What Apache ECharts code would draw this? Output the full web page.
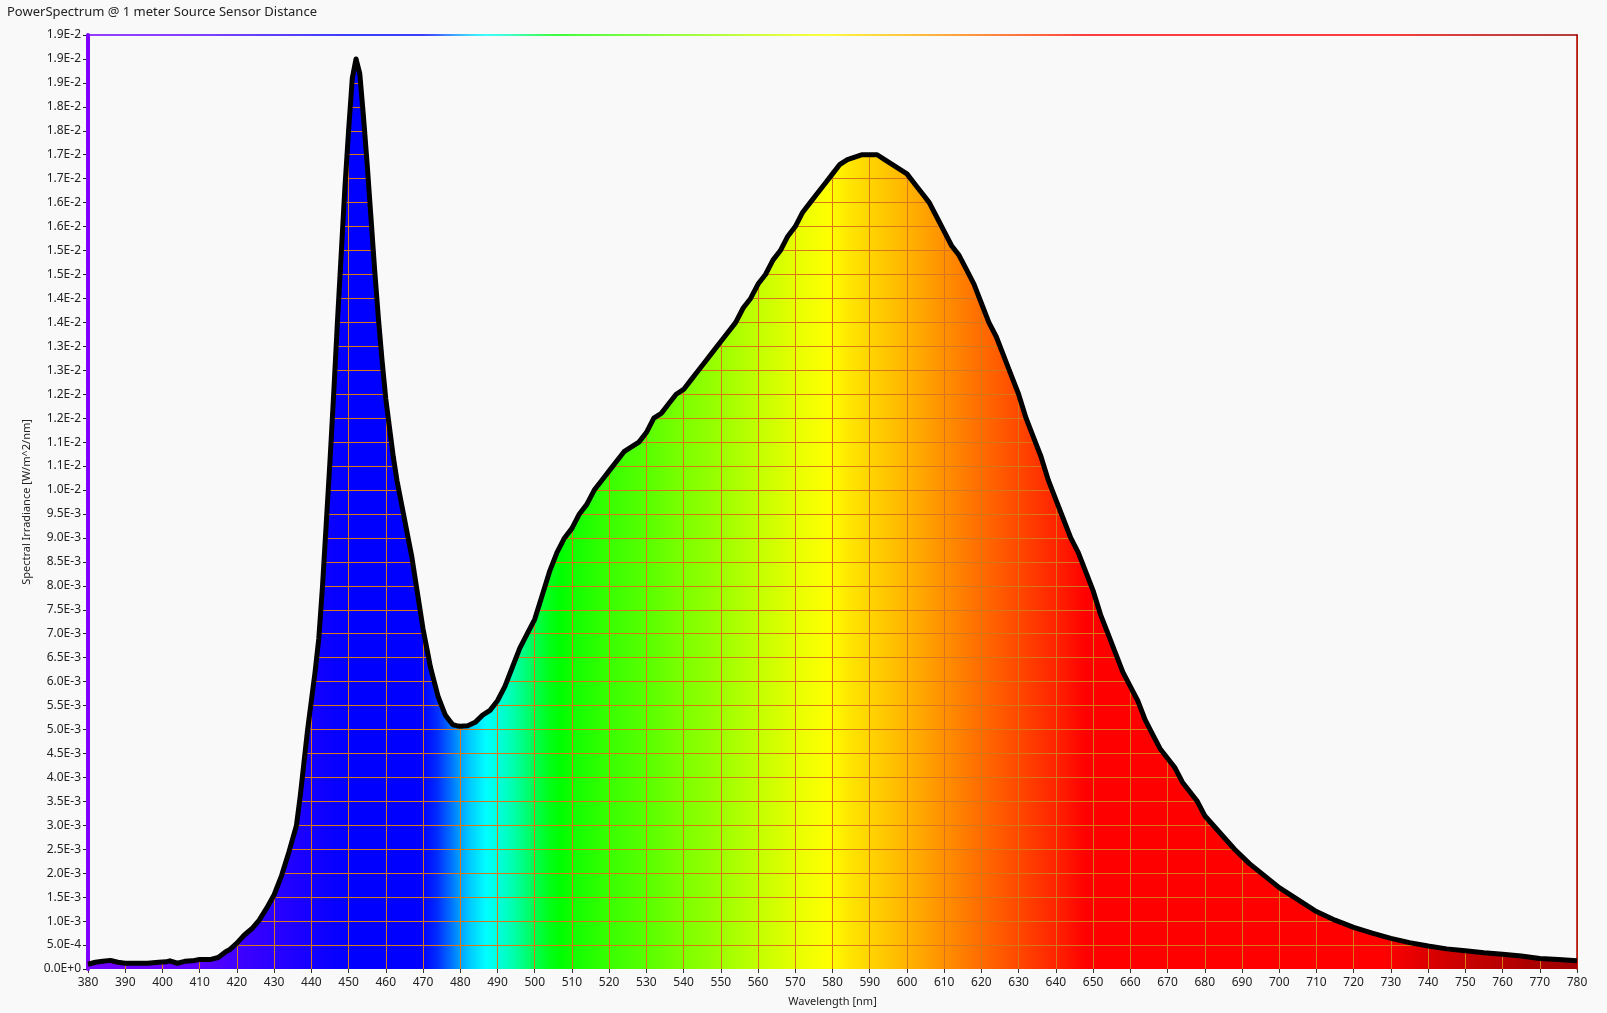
<!DOCTYPE html>
<html>
<head>
<meta charset="utf-8">
<script src="https://cdn.jsdelivr.net/npm/echarts@6/dist/echarts.min.js"></script>
<style>
html,body{margin:0;padding:0;background:#f9f9f9;}
#chart{width:1607px;height:1013px;}
</style>
</head>
<body>
<div id="chart"></div>
<script>
const titleText = 'PowerSpectrum @ 1 meter Source Sensor Distance';
const xName = 'Wavelength [nm]';
const yName = 'Spectral Irradiance [W/m^2/nm]';

const wavelengths = [
  380,382,384,386,388,390,393,396,399,401,402,404,406,408,410,413,415,417,418,420,
  422,424,426,428,430,432,434,436,437,438,439,440,441,442,443,444,445,446,447,448,
  449,450,451,452,453,454,455,456,457,458,459,460,461,462,463,464,465,466,467,468,
  469,470,471,472,473,474,475,476,477,478,479,480,482,484,486,488,490,492,494,496,
  498,500,502,504,506,508,510,512,514,516,518,520,522,524,526,528,530,532,534,536,
  538,540,542,544,546,548,550,552,554,556,558,560,562,564,566,568,570,572,574,576,
  578,580,582,584,586,588,590,592,594,596,598,600,602,604,606,608,610,612,614,616,
  618,620,622,624,626,628,630,632,634,636,638,640,642,644,646,648,650,652,654,656,
  658,660,662,664,666,668,670,672,674,676,678,680,684,688,692,696,700,705,710,715,
  720,725,730,735,740,745,750,755,760,765,770,775,780
];
const irradiance = [
  0.00010,0.00014,0.00016,0.00018,0.00014,0.00012,0.00012,0.00012,0.00014,0.00015,0.00017,0.00012,0.00016,0.00017,0.00020,0.00020,0.00024,0.00036,0.00040,0.00054,
  0.00071,0.00084,0.00102,0.00127,0.00155,0.00195,0.00245,0.00300,0.00360,0.00430,0.00500,0.00560,0.00620,0.00690,0.00800,0.00930,0.01060,0.01200,0.01350,0.01490,
  0.01630,0.01750,0.01860,0.01900,0.01870,0.01780,0.01680,0.01570,0.01460,0.01360,0.01270,0.01190,0.01130,0.01070,0.01020,0.00980,0.00940,0.00900,0.00860,0.00810,
  0.00760,0.00710,0.00670,0.00630,0.00600,0.00570,0.00550,0.00530,0.00520,0.00510,0.00508,0.00507,0.00508,0.00515,0.00530,0.00540,0.00560,0.00590,0.00630,0.00670,
  0.00700,0.00730,0.00780,0.00830,0.00870,0.00900,0.00920,0.00950,0.00970,0.01000,0.01020,0.01040,0.01060,0.01080,0.01090,0.01100,0.01120,0.01150,0.01160,0.01180,
  0.01200,0.01210,0.01230,0.01250,0.01270,0.01290,0.01310,0.01330,0.01350,0.01380,0.01400,0.01430,0.01450,0.01480,0.01500,0.01530,0.01550,0.01580,0.01600,0.01620,
  0.01640,0.01660,0.01680,0.01690,0.01695,0.01700,0.01700,0.01700,0.01690,0.01680,0.01670,0.01660,0.01640,0.01620,0.01600,0.01570,0.01540,0.01510,0.01490,0.01460,
  0.01430,0.01390,0.01350,0.01320,0.01280,0.01240,0.01200,0.01150,0.01110,0.01070,0.01020,0.00980,0.00940,0.00900,0.00870,0.00830,0.00790,0.00740,0.00700,0.00660,
  0.00620,0.00590,0.00560,0.00520,0.00490,0.00460,0.00440,0.00420,0.00390,0.00370,0.00350,0.00320,0.00285,0.00250,0.00220,0.00195,0.00170,0.00145,0.00120,0.00102,
  0.00087,0.00075,0.00064,0.00055,0.00048,0.00042,0.00038,0.00034,0.00031,0.00027,0.00022,0.00020,0.00017
];
const yTickLabels = [
  '0.0E+0','5.0E-4','1.0E-3','1.5E-3','2.0E-3','2.5E-3','3.0E-3','3.5E-3','4.0E-3','4.5E-3',
  '5.0E-3','5.5E-3','6.0E-3','6.5E-3','7.0E-3','7.5E-3','8.0E-3','8.5E-3','9.0E-3','9.5E-3',
  '1.0E-2','1.1E-2','1.1E-2','1.2E-2','1.2E-2','1.3E-2','1.3E-2','1.4E-2','1.4E-2','1.5E-2',
  '1.5E-2','1.6E-2','1.6E-2','1.7E-2','1.7E-2','1.8E-2','1.8E-2','1.9E-2','1.9E-2','1.9E-2'
];

const X_MIN = 380, X_MAX = 780, X_STEP = 10;
const Y_MIN = 0, Y_MAX = 0.0195, Y_STEP = 0.0005;

// spectrum colour stops (wavelength -> colour), style only
const spectrumStops = [
  [380,'#7400ff'],[400,'#6600ff'],[410,'#5800ff'],[420,'#4000ff'],[430,'#2a00ff'],[440,'#1400ff'],[450,'#0000ff'],
  [470,'#0000ff'],[474,'#0030ff'],[477,'#0068ff'],[480,'#00a0ff'],[483,'#00d0ff'],[487,'#00ffff'],[490,'#00ffe0'],
  [494,'#00ffb0'],[497,'#00ff80'],[500,'#00ff50'],[504,'#00ff18'],[507,'#00ff00'],[510,'#10ff00'],[520,'#38ff00'],
  [530,'#58ff00'],[540,'#7cff00'],[550,'#9cff00'],[560,'#c2ff00'],[570,'#e6ff00'],[579,'#ffff00'],[585,'#ffe400'],
  [590,'#ffd400'],[600,'#ffb400'],[610,'#ff9000'],[620,'#ff6c00'],[630,'#ff4800'],[640,'#ff2400'],[648,'#ff0000'],
  [728,'#ff0000'],[740,'#dc0000'],[750,'#c80000'],[760,'#b80000'],[770,'#a80000'],[780,'#a00000']
];
function spectrumGradient(){
  return new echarts.graphic.LinearGradient(0,0,1,0,
    spectrumStops.map(s => ({offset:(s[0]-X_MIN)/(X_MAX-X_MIN), color:s[1]})));
}

const points = wavelengths.map((w,i) => [w, irradiance[i]]);
const BG = '#f9f9f9';
const GRID = '#d8761a';
const FONT = 'Noto Sans';

const chart = echarts.init(document.getElementById('chart'), null, {renderer:'canvas'});
chart.setOption({
  backgroundColor: BG,
  animation: false,
  textStyle: {fontFamily: FONT},
  title: {
    text: titleText, left: 2, top: 1,
    textStyle: {fontFamily: FONT, fontSize: 13, fontWeight: 'normal', color: '#222'}
  },
  grid: {left: 88, right: 30, top: 35, bottom: 44, containLabel: false},
  xAxis: [
    {
      type: 'value', min: X_MIN, max: X_MAX, interval: X_STEP, position: 'bottom', z: 3,
      name: xName, nameLocation: 'middle', nameGap: 27,
      nameTextStyle: {fontFamily: FONT, fontSize: 11, color: '#222'},
      axisLine: {show: false, onZero: false},
      axisTick: {show: true, length: 4, lineStyle: {color: '#333'}},
      axisLabel: {fontFamily: FONT, fontSize: 12, color: '#222', margin: 8},
      splitLine: {show: true, lineStyle: {color: GRID, width: 1}}
    },
    {
      type: 'value', min: X_MIN, max: X_MAX, position: 'top', z: 5,
      axisLine: {show: true, onZero: false, lineStyle: {color: spectrumGradient(), width: 1.5}},
      axisTick: {show: false}, axisLabel: {show: false}, splitLine: {show: false}
    }
  ],
  yAxis: [
    {
      type: 'value', min: Y_MIN, max: Y_MAX, interval: Y_STEP, position: 'left', z: 3,
      name: yName, nameLocation: 'middle', nameGap: 40, nameRotate: 90,
      nameTextStyle: {fontFamily: FONT, fontSize: 11, color: '#222'},
      axisLine: {show: false, onZero: false},
      axisTick: {show: true, length: 5, lineStyle: {color: '#222'}},
      axisLabel: {
        fontFamily: FONT, fontSize: 12, color: '#222', margin: 7,
        formatter: v => yTickLabels[Math.round(v / Y_STEP)] || ''
      },
      splitLine: {show: true, showMinLine: false, lineStyle: {color: GRID, width: 1}}
    },
    {
      type: 'value', min: Y_MIN, max: Y_MAX, position: 'left', z: 5,
      axisLine: {show: true, onZero: false, lineStyle: {color: '#8000ff', width: 4}},
      axisTick: {show: false}, axisLabel: {show: false}, splitLine: {show: false}
    },
    {
      type: 'value', min: Y_MIN, max: Y_MAX, position: 'right', z: 5,
      axisLine: {show: true, onZero: false, lineStyle: {color: '#b00000', width: 1.5}},
      axisTick: {show: false}, axisLabel: {show: false}, splitLine: {show: false}
    }
  ],
  series: [
    {
      name: 'fill', type: 'line', data: points, xAxisIndex: 0, yAxisIndex: 0,
      showSymbol: false, silent: true, z: 2,
      lineStyle: {width: 0},
      areaStyle: {color: spectrumGradient(), opacity: 1, origin: 'start'}
    },
    {
      name: 'cover', type: 'line', data: points, xAxisIndex: 0, yAxisIndex: 0,
      showSymbol: false, silent: true, z: 4,
      lineStyle: {width: 0},
      areaStyle: {color: BG, opacity: 1, origin: 'end'}
    },
    {
      name: 'curve', type: 'line', data: points, xAxisIndex: 0, yAxisIndex: 0,
      showSymbol: false, silent: true, z: 6,
      lineStyle: {color: '#000', width: 5, join: 'round'}
    }
  ]
});
</script>
</body>
</html>
